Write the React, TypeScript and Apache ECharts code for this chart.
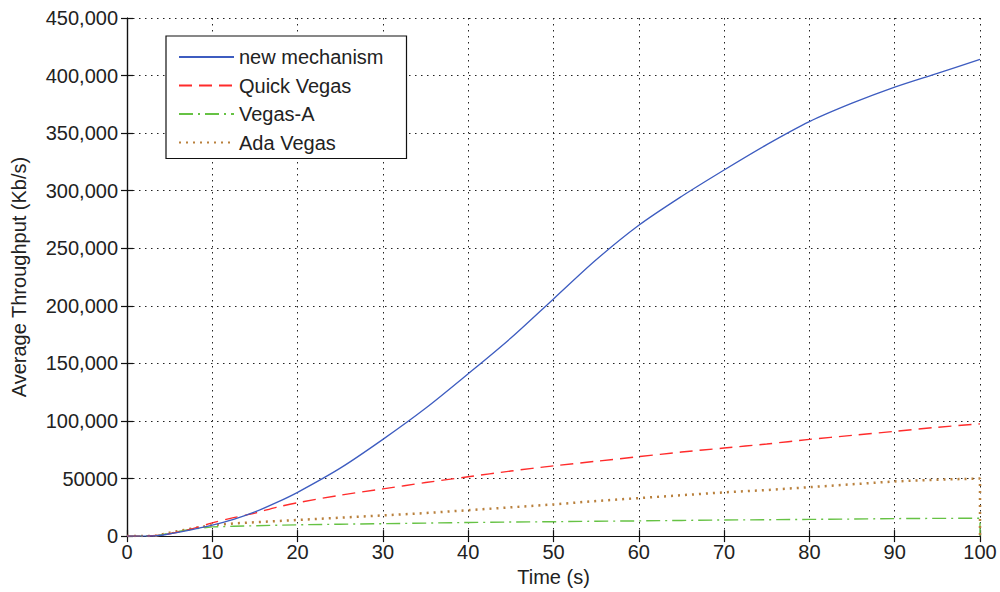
import React, { useEffect, useRef } from "react";
import * as echarts from "echarts";

const timeS = [0, 2, 3.5, 5, 7.5, 10, 12.5, 15, 17.5, 20, 25, 30, 35, 40, 45, 50, 55, 60, 65, 70, 75, 80, 85, 90, 95, 100];
const newMechanism = [0, 0, 300, 2000, 5500, 9500, 14500, 21000, 29000, 38000, 59000, 84000, 111000, 141000, 172000, 206000, 240000, 270000, 295000, 318000, 340000, 360000, 376000, 390000, 402000, 414000];
const quickVegas = [0, 0, 500, 2000, 6000, 11500, 16000, 20000, 25000, 29000, 35500, 41000, 46500, 51500, 56500, 61000, 65000, 69000, 73000, 76500, 80000, 84000, 87500, 91000, 94500, 97500];
const vegasA = [0, 0, 300, 2500, 6000, 8000, 8500, 9000, 9400, 9800, 10300, 10800, 11300, 11800, 12200, 12500, 12900, 13200, 13600, 14000, 14200, 14500, 14800, 15200, 15400, 15500];
const adaVegas = [0, 0, 300, 3000, 6500, 9500, 11000, 12000, 13000, 14000, 16000, 18000, 20000, 22500, 25000, 27500, 30500, 33000, 35500, 38000, 40000, 42500, 45000, 47500, 49000, 50000];
const endDrop: [number, number] = [100, 0];

const seriesNames = ["new mechanism", "Quick Vegas", "Vegas-A", "Ada Vegas"];
const yTicks = { min: 0, max: 450000, interval: 50000 };
const xTicks = { min: 0, max: 100, interval: 10 };

const FONT = "Liberation Sans";

function pairs(vals: number[], drop?: [number, number]) {
  const d: [number, number][] = timeS.map((t, i) => [t, vals[i]]);
  if (drop) d.push(drop);
  return d;
}

function yLabel(v: number) {
  if (v === 50000) return "50000";
  return v.toLocaleString("en-US");
}

export default function App() {
  const ref = useRef<HTMLDivElement>(null);
  useEffect(() => {
    if (!ref.current) return;
    const chart = echarts.init(ref.current, null, { renderer: "svg" });
    const gridLine = { show: true, lineStyle: { color: "#222", type: [1.5, 4.5], width: 1 } };
    const axisLine = { show: true, lineStyle: { color: "#111", width: 1.2 } };
    const tick = { show: true, inside: true, length: 6, lineStyle: { color: "#111", width: 1.2 } };
    const labelStyle = { color: "#222", fontFamily: FONT, fontSize: 20 };
    chart.setOption({
      animation: false,
      backgroundColor: "#fff",
      grid: { left: 127, right: 20, top: 18, bottom: 54, containLabel: false },
      legend: {
        orient: "vertical",
        left: 166,
        top: 36,
        padding: [11, 23, 6, 12],
        itemWidth: 55,
        itemHeight: 14,
        itemGap: 8.5,
        backgroundColor: "#fff",
        borderColor: "#111",
        borderWidth: 1.2,
        borderRadius: 0,
        itemStyle: { opacity: 0 },
        textStyle: { color: "#222", fontFamily: FONT, fontSize: 20, lineHeight: 20 },
        data: seriesNames,
      },
      xAxis: [
        {
          type: "value",
          ...xTicks,
          name: "Time (s)",
          nameLocation: "middle",
          nameGap: 28,
          nameTextStyle: { ...labelStyle },
          axisLine,
          axisTick: tick,
          axisLabel: { ...labelStyle, margin: 6 },
          splitLine: gridLine,
        },
        {
          type: "value",
          position: "top",
          ...xTicks,
          axisLine,
          axisTick: tick,
          axisLabel: { show: false },
          splitLine: { show: false },
        },
      ],
      yAxis: [
        {
          type: "value",
          ...yTicks,
          name: "Average Throughput (Kb/s)",
          nameLocation: "middle",
          nameGap: 98,
          nameTextStyle: { ...labelStyle },
          axisLine,
          axisTick: tick,
          axisLabel: { ...labelStyle, margin: 9, formatter: yLabel },
          splitLine: gridLine,
        },
        {
          type: "value",
          position: "right",
          ...yTicks,
          axisLine,
          axisTick: tick,
          axisLabel: { show: false },
          splitLine: { show: false },
        },
      ],
      series: [
        {
          name: seriesNames[0],
          type: "line",
          symbol: "none",
          smooth: 0.3,
          data: pairs(newMechanism),
          lineStyle: { color: "#3d5cc0", width: 1.3, type: "solid" },
          itemStyle: { color: "#3d5cc0" },
          z: 5,
        },
        {
          name: seriesNames[1],
          type: "line",
          symbol: "none",
          smooth: 0.3,
          data: pairs(quickVegas),
          lineStyle: { color: "#ff2b2b", width: 1.4, type: [13, 7] },
          itemStyle: { color: "#ff2b2b" },
          z: 4,
        },
        {
          name: seriesNames[2],
          type: "line",
          symbol: "none",
          data: pairs(vegasA, endDrop),
          lineStyle: { color: "#66c244", width: 1.4, type: [14, 5, 2, 5] },
          itemStyle: { color: "#66c244" },
          z: 3,
        },
        {
          name: seriesNames[3],
          type: "line",
          symbol: "none",
          data: pairs(adaVegas, endDrop),
          lineStyle: { color: "#b9803c", width: 2.5, type: [2, 5] },
          itemStyle: { color: "#b9803c" },
          z: 3,
        },
      ],
    });
    return () => chart.dispose();
  }, []);
  return (
    <div
      ref={ref}
      style={{ position: "fixed", left: 0, top: 0, width: 1000, height: 592, background: "#fff" }}
    />
  );
}
